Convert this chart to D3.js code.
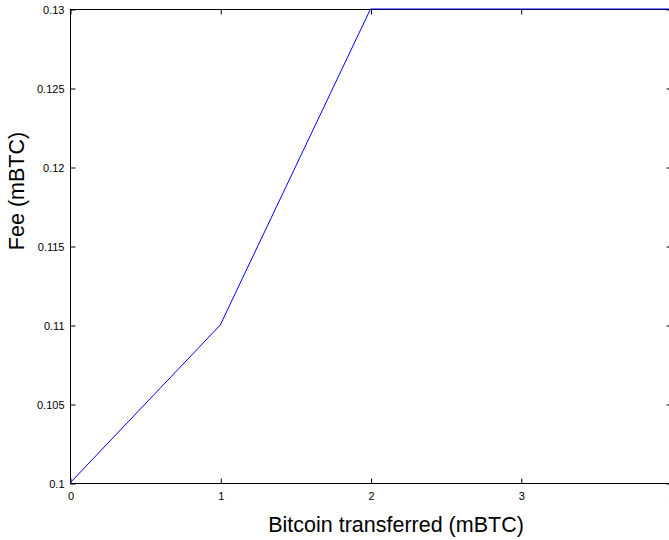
<!DOCTYPE html>
<html>
<head>
<meta charset="utf-8">
<script src="https://cdn.jsdelivr.net/npm/d3@7"></script>
<style>
  html, body { margin: 0; padding: 0; background: #fff; }
  svg { display: block; }
  text { font-family: "Liberation Sans", Arial, Helvetica, sans-serif; fill: #000; }
</style>
</head>
<body>
<svg id="chart" width="669" height="540"></svg>
<script>
// Transaction fee as a function of the amount transferred
const transferred = [0, 1, 2, 3, 4];
const fee = [0.10, 0.11, 0.13, 0.13, 0.13];
const xTicks = [0, 1, 2, 3, 4];
const yTicks = [0.1, 0.105, 0.11, 0.115, 0.12, 0.125, 0.13];
const yTickLabels = ["0.1", "0.105", "0.11", "0.115", "0.12", "0.125", "0.13"];

const svg = d3.select("#chart");
const plotLeft = 70, plotRight = 671, plotTop = 9, plotBottom = 483;

const x = d3.scaleLinear().domain([0, 4]).range([plotLeft, plotRight]);
const y = d3.scaleLinear().domain([0.1, 0.13]).range([plotBottom, plotTop]);

// axis box
svg.append("rect")
  .attr("x", plotLeft + 0.5).attr("y", plotTop + 0.5)
  .attr("width", plotRight - plotLeft).attr("height", plotBottom - plotTop)
  .attr("fill", "none").attr("stroke", "#000").attr("stroke-width", 1);

// bottom axis: inward ticks
const xAxis = d3.axisBottom(x).tickValues(xTicks).tickSize(-5).tickPadding(9)
  .tickFormat(d3.format("d"));
const gx = svg.append("g").attr("transform", `translate(0.5,${plotBottom + 0.5})`).call(xAxis);
gx.select(".domain").remove();
gx.selectAll("text").attr("font-size", 11).attr("font-family", "Liberation Sans, Arial, sans-serif");

// left axis: inward ticks
const yAxis = d3.axisLeft(y).tickValues(yTicks).tickSize(-5).tickPadding(6)
  .tickFormat((d, i) => yTickLabels[i]);
const gy = svg.append("g").attr("transform", `translate(${plotLeft + 0.5},0.5)`).call(yAxis);
gy.select(".domain").remove();
gy.selectAll("text").attr("font-size", 11).attr("font-family", "Liberation Sans, Arial, sans-serif");

// right side ticks (mirrored)
const gr = svg.append("g").attr("transform", `translate(${plotRight + 0.5},0.5)`)
  .call(d3.axisRight(y).tickValues(yTicks).tickSize(-5).tickFormat(""));
gr.select(".domain").remove();

// top side ticks (mirrored)
const gt = svg.append("g").attr("transform", `translate(0.5,${plotTop + 0.5})`)
  .call(d3.axisTop(x).tickValues(xTicks).tickSize(-5).tickFormat(""));
gt.select(".domain").remove();

svg.selectAll(".tick line").attr("stroke", "#000");

// fee curve
const line = d3.line().x((d, i) => x(transferred[i])).y(d => y(d));
svg.append("path")
  .datum(fee)
  .attr("d", line)
  .attr("fill", "none")
  .attr("stroke", "#0000ff")
  .attr("stroke-width", 1);

// axis titles
svg.append("text")
  .attr("x", 396).attr("y", 532)
  .attr("text-anchor", "middle")
  .attr("font-size", 21.5)
  .text("Bitcoin transferred (mBTC)");

svg.append("text")
  .attr("transform", "translate(24,191) rotate(-90)")
  .attr("text-anchor", "middle")
  .attr("font-size", 21.5)
  .text("Fee (mBTC)");
</script>
</body>
</html>
